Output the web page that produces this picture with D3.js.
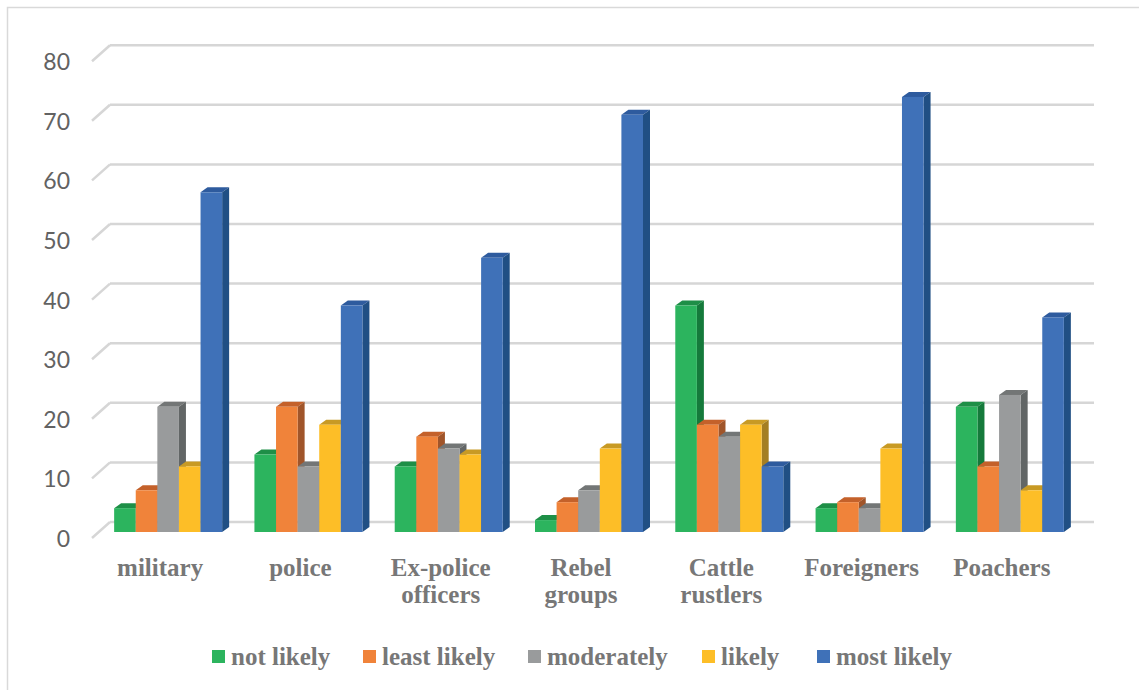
<!DOCTYPE html>
<html>
<head>
<meta charset="utf-8">
<script src="https://cdn.jsdelivr.net/npm/d3@7"></script>
<style>
  html, body { margin: 0; padding: 0; background: #fff; }
  svg { display: block; }
</style>
</head>
<body>
<svg id="chart" width="1139" height="690"></svg>
<script>
// Categories (groups along the floor) and the five response levels
const categories = ["military", "police", "Ex-police officers", "Rebel groups", "Cattle rustlers", "Foreigners", "Poachers"];
const seriesNames = ["not likely", "least likely", "moderately", "likely", "most likely"];

// Counts per category for each response level
const notLikely   = [4, 13, 11, 2, 38, 4, 21];
const leastLikely = [7, 21, 16, 5, 18, 5, 11];
const moderately  = [21, 11, 14, 7, 16, 4, 23];
const likely      = [11, 18, 13, 14, 18, 14, 7];
const mostLikely  = [57, 38, 46, 70, 11, 73, 36];

const yTicks = [0, 10, 20, 30, 40, 50, 60, 70, 80];

const seriesValues = [notLikely, leastLikely, moderately, likely, mostLikely];

// face colours: front, top, side
const palette = [
  { front: "#2cb45e", top: "#1e8f47", side: "#157a3b" },
  { front: "#f0833a", top: "#c4612a", side: "#a0552a" },
  { front: "#999b9c", top: "#737676", side: "#626666" },
  { front: "#fdbe27", top: "#c89a24", side: "#a47e22" },
  { front: "#3f71b8", top: "#2e5b9e", side: "#204f84" }
];

const svg = d3.select("#chart");

// outer chart frame
svg.append("rect")
  .attr("x", 7.5).attr("y", 7.5)
  .attr("width", 1150).attr("height", 700)
  .attr("fill", "#fff")
  .attr("stroke", "#d9d9d9").attr("stroke-width", 1.5);

// front plane of the bars
const y = d3.scaleLinear().domain([0, 80]).range([532, 532 - 80 * 5.96]);
const x = d3.scaleBand().domain(categories).range([98, 1080]).padding(0);
const groupWidth = 108;
const xInner = d3.scaleBand().domain(seriesNames).range([0, groupWidth]).padding(0);

// perspective offsets
const wallDy = -10;                // back wall relative to bar front plane
const floorDy = 6;                 // front edge of the side wall
const barDx = 7, barDy = -5;       // bar depth
const wallLeft = 110, wallRight = 1094, wallFront = 92;

// gridlines on back wall and side wall
const grid = svg.append("g");
yTicks.forEach(t => {
  const yb = y(t) + wallDy;
  grid.append("line")
    .attr("x1", wallLeft).attr("x2", wallRight)
    .attr("y1", yb).attr("y2", yb)
    .attr("stroke", "#d6d6d6").attr("stroke-width", 2.5);
  grid.append("line")
    .attr("x1", wallFront).attr("y1", yb + 16)
    .attr("x2", wallLeft).attr("y2", yb)
    .attr("stroke", "#d6d6d6").attr("stroke-width", 2.5);
});

// value axis labels
svg.append("g").selectAll("text")
  .data(yTicks).join("text")
  .attr("x", 70)
  .attr("y", d => y(d) + floorDy)
  .attr("text-anchor", "end")
  .attr("dominant-baseline", "central")
  .attr("font-family", "Lato, 'Open Sans', sans-serif")
  .attr("font-size", 23)
  .attr("fill", "#626262")
  .text(d => d);

// bars
const bars = svg.append("g");
categories.forEach((cat, ci) => {
  const gx = x(cat) + (x.bandwidth() - groupWidth) / 2;
  seriesNames.forEach((s, si) => {
    const v = seriesValues[si][ci];
    const x0 = gx + xInner(s);
    const x1 = x0 + xInner.bandwidth();
    const yt = y(v), yb = y(0);
    const c = palette[si];
    // top face
    bars.append("path")
      .attr("d", `M${x0},${yt}L${x1},${yt}L${x1 + barDx},${yt + barDy}L${x0 + barDx},${yt + barDy}Z`)
      .attr("fill", c.top);
    // side face
    bars.append("path")
      .attr("d", `M${x1},${yt}L${x1 + barDx},${yt + barDy}L${x1 + barDx},${yb + barDy}L${x1},${yb}Z`)
      .attr("fill", c.side);
    // front face
    bars.append("rect")
      .attr("x", x0).attr("y", yt)
      .attr("width", x1 - x0).attr("height", yb - yt)
      .attr("fill", c.front);
  });
});

// category labels (two-word names wrap onto two lines)
const catLabels = svg.append("g")
  .attr("font-family", "'Liberation Serif', 'Times New Roman', serif")
  .attr("font-weight", "bold")
  .attr("font-size", 25)
  .attr("fill", "#777")
  .attr("text-anchor", "middle");
categories.forEach(cat => {
  const cxLabel = x(cat) + x.bandwidth() / 2 - 8;
  const t = catLabels.append("text").attr("x", cxLabel).attr("y", 576);
  cat.split(" ").forEach((w, i) => {
    t.append("tspan")
      .attr("x", cxLabel)
      .attr("dy", i === 0 ? 0 : 27)
      .text(w);
  });
});

// legend
const legendX = [212, 363, 528, 702, 817];
const legend = svg.append("g");
const items = legend.selectAll("g").data(seriesNames).join("g")
  .attr("transform", (d, i) => `translate(${legendX[i]},0)`);
items.append("rect")
  .attr("width", 13).attr("height", 13)
  .attr("y", 650)
  .attr("fill", (d, i) => palette[i].front);
items.append("text")
  .attr("x", 19).attr("y", 665)
  .attr("font-family", "'Liberation Serif', 'Times New Roman', serif")
  .attr("font-weight", "bold")
  .attr("font-size", 25)
  .attr("fill", "#777")
  .text(d => d);
</script>
</body>
</html>
